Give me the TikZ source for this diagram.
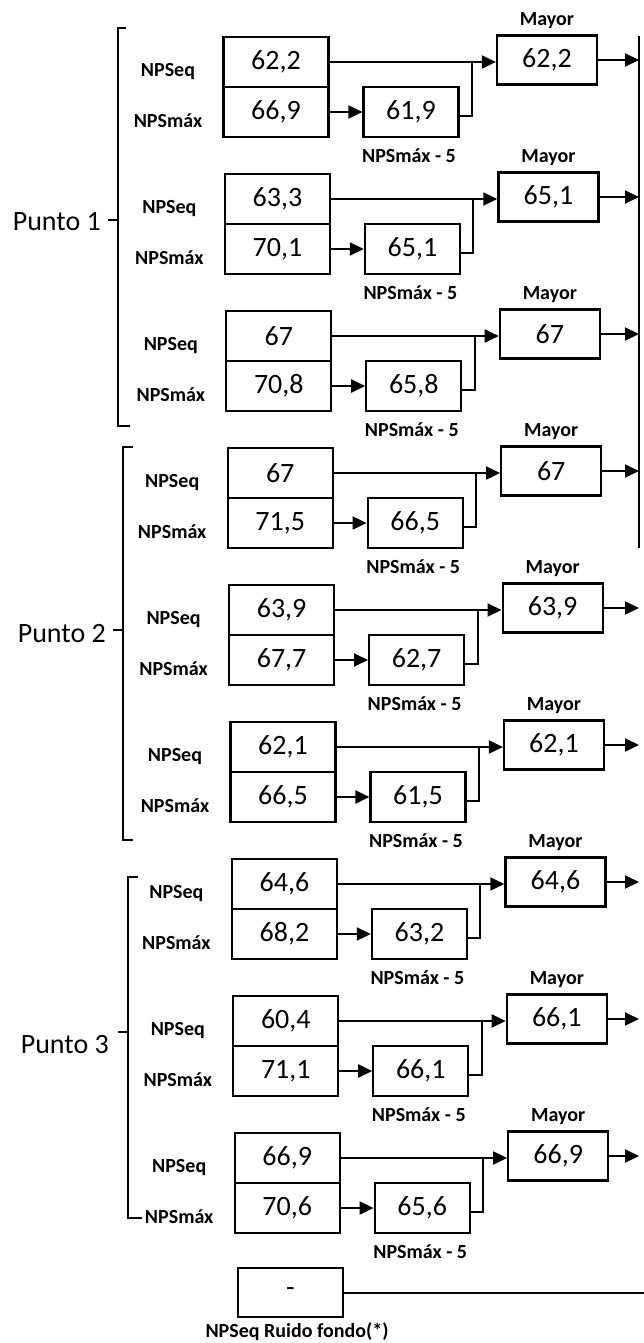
\documentclass[tikz,border=0pt]{standalone}
\usepackage{fontspec}
\setmainfont{Carlito}
\usetikzlibrary{arrows.meta}
\tikzset{
  val/.style={draw, line width=2.2pt, minimum width=105pt, minimum height=50pt, inner sep=0pt, font=\fontsize{28}{28}\selectfont},
  valf/.style={val, minimum width=95pt, minimum height=50pt},
  valm/.style={val, minimum width=100pt, minimum height=49pt},
  lab/.style={inner sep=0pt, font=\fontsize{20}{20}\selectfont\bfseries},
  punto/.style={inner sep=0pt, anchor=east, font=\fontsize{28}{28}\selectfont},
  conn/.style={line width=2pt},
  arr/.style={line width=2pt, -{Triangle[length=14pt,width=13pt]}},
  br/.style={line width=1.8pt},
}
\newcommand\prow[5]{%
  \pgfmathsetmacro\T{37+137*#1}%
  \pgfmathsetmacro\D{1.4*#1}%
  \node[val] (eq#1) at (276+\D, \T+25) {#2};
  \node[val] (mx#1) at (276+\D, \T+75) {#3};
  \node[valf] (mf#1) at (411+\D, \T+75) {#4};
  \node[valm] (my#1) at (547+\D, \T+23) {#5};
  \node[lab] (ml#1) at (547+\D, \T-16) {Mayor};
  \node[lab] (fl#1) at (409+\D, \T+119) {NPSmáx - 5};
  \node[lab] (le#1) at (168+\D, \T+35) {NPSeq};
  \node[lab] (lm#1) at (168+\D, \T+84) {NPSmáx};
  \coordinate (j#1) at ([xshift=-24pt]eq#1.east -| my#1.west);
  \draw[arr] (eq#1.east) -- (eq#1.east -| my#1.west);
  \draw[arr] (mx#1.east) -- (mx#1.east -| mf#1.west);
  \draw[conn] ([yshift=-4pt]mf#1.east) -| (j#1);
  \draw[arr] (my#1.east) -- (my#1.east -| rt);
}
\begin{document}
\begin{tikzpicture}[x=1pt,y=-1pt]
\useasboundingbox (0,0) rectangle (644,1343);
\coordinate (rt) at (639,36);
\coordinate (rb) at (639,548);
\draw[conn] (rt) -- (rb);
\prow{0}{62,2}{66,9}{61,9}{62,2}
\prow{1}{63,3}{70,1}{65,1}{65,1}
\prow{2}{67}{70,8}{65,8}{67}
\prow{3}{67}{71,5}{66,5}{67}
\prow{4}{63,9}{67,7}{62,7}{63,9}
\prow{5}{62,1}{66,5}{61,5}{62,1}
\prow{6}{64,6}{68,2}{63,2}{64,6}
\prow{7}{60,4}{71,1}{66,1}{66,1}
\prow{8}{66,9}{70,6}{65,6}{66,9}
% brackets
\draw[br] (126,28) -- (118,28) -- (118,426) -- (130,426);
\draw[br] (118,220) -- (108,220);
\node[punto] (p1) at (101,222) {Punto 1};
\draw[br] (133,447) -- (123,447) -- (123,840) -- (133,840);
\draw[br] (123,630) -- (113,630);
\node[punto] (p2) at (106,634) {Punto 2};
\draw[br] (138,877) -- (128,877) -- (128,1218) -- (142,1218);
\draw[br] (128,1032) -- (118,1032);
\node[punto] (p3) at (109,1045) {Punto 3};
% background noise
\node[val, minimum height=49pt] (bg) at (290.5,1292.5) {-};
\coordinate (be) at (644,1290);
\draw[conn] (bg.east) -- (bg.east -| be);
\node[lab] (bgl) at (297,1332) {NPSeq Ruido fondo(*)};
\end{tikzpicture}
\end{document}
